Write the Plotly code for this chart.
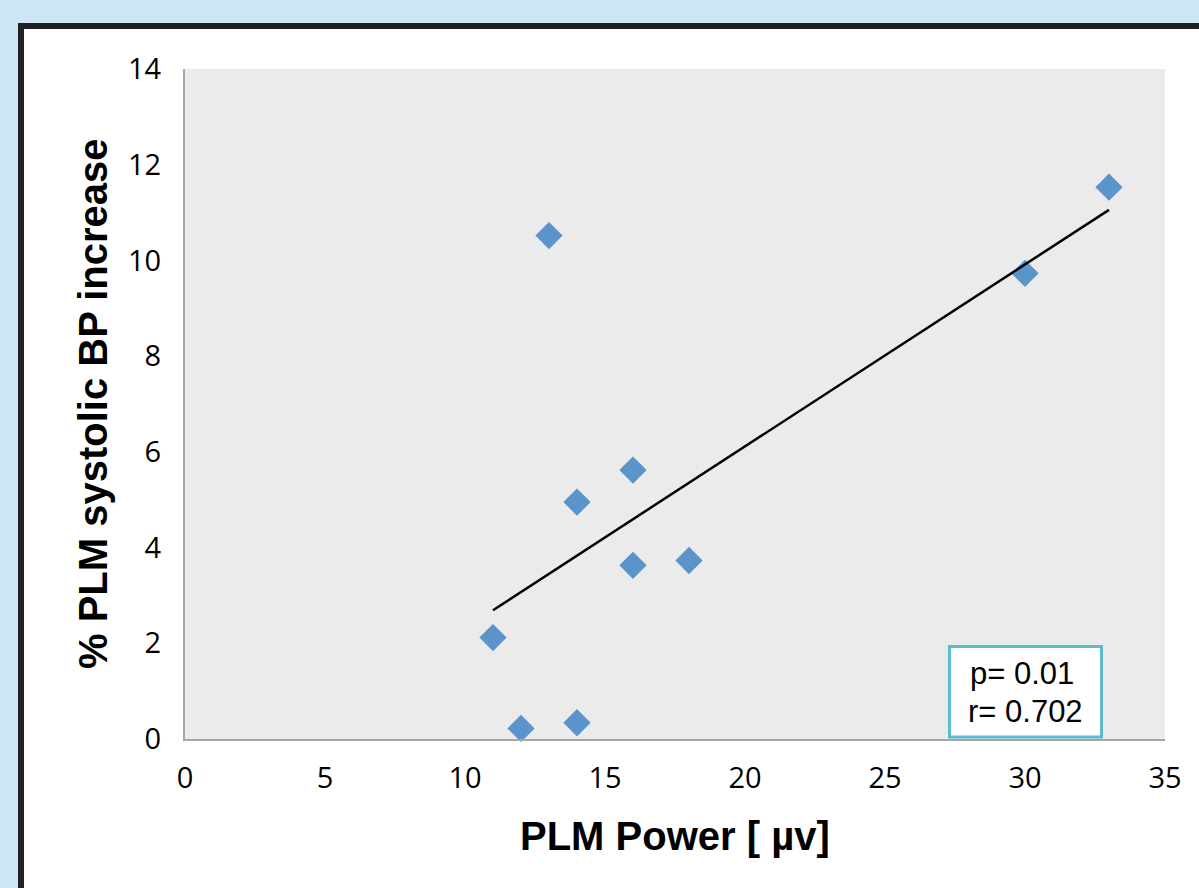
import numpy as np
import plotly.graph_objects as go

# Data
plm_power = [11, 12, 13, 14, 14, 16, 16, 18, 30, 33]
bp_increase = [2.12, 0.22, 10.52, 0.34, 4.95, 5.62, 3.63, 3.73, 9.73, 11.53]
x_ticks = [0, 5, 10, 15, 20, 25, 30, 35]
y_ticks = [0, 2, 4, 6, 8, 10, 12, 14]
stats_text = ["p= 0.01", "r= 0.702"]

# Linear trend line (least squares)
slope, intercept = np.polyfit(plm_power, bp_increase, 1)
trend_x = [min(plm_power), max(plm_power)]
trend_y = [slope * v + intercept for v in trend_x]

W, H = 1199, 888
L, R, T, B = 185, 1165, 69, 739  # plot area in pixels


def px_x(p):
    return (p - L) / (R - L)


def px_y(p):
    return (B - p) / (B - T)


fig = go.Figure()
fig.add_trace(go.Scatter(
    x=plm_power, y=bp_increase, mode="markers",
    marker=dict(symbol="diamond", size=21, color="#5b93cb",
                line=dict(width=0)),
    showlegend=False, cliponaxis=False,
))
fig.add_trace(go.Scatter(
    x=trend_x, y=trend_y, mode="lines",
    line=dict(color="black", width=2.5),
    showlegend=False,
))

shapes = [
    # white card with dark frame
    dict(type="rect", xref="paper", yref="paper", layer="below",
         x0=px_x(21), x1=px_x(1215), y0=px_y(905), y1=px_y(26),
         fillcolor="white", line=dict(color="#231f20", width=6)),
    # grey plot area
    dict(type="rect", xref="paper", yref="paper", layer="below",
         x0=0, x1=1, y0=0, y1=1, fillcolor="#ebebeb", line=dict(width=0)),
    # stats box
    dict(type="rect", xref="paper", yref="paper", layer="above",
         x0=px_x(949.5), x1=px_x(1101.5), y0=px_y(737), y1=px_y(646.5),
         fillcolor="white", line=dict(color="#5bbcd0", width=3)),
]

stat_font = dict(family="Liberation Sans, Arial", size=31, color="black")
annotations = [
    dict(text=stats_text[0], xref="paper", yref="paper",
         x=px_x(968), y=px_y(673), xanchor="left", yanchor="middle",
         align="left", showarrow=False, font=stat_font),
    dict(text=stats_text[1], xref="paper", yref="paper",
         x=px_x(966), y=px_y(711), xanchor="left", yanchor="middle",
         align="left", showarrow=False, font=stat_font),
    dict(text="<b>PLM Power [ µv]</b>", xref="paper", yref="paper",
         x=0.5, y=px_y(836), xanchor="center", yanchor="middle",
         showarrow=False,
         font=dict(family="Liberation Sans, Arial", size=40, color="black")),
    dict(text="<b>% PLM systolic BP increase</b>", xref="paper", yref="paper",
         x=px_x(93), y=px_y(404), xanchor="center", yanchor="middle",
         textangle=-90, showarrow=False,
         font=dict(family="Liberation Sans, Arial", size=40, color="black")),
]

fig.update_layout(
    width=W, height=H,
    margin=dict(l=L, r=W - R, t=T, b=H - B, pad=0),
    paper_bgcolor="#cce7f3",
    plot_bgcolor="rgba(0,0,0,0)",
    shapes=shapes,
    annotations=annotations,
    font=dict(family="Open Sans, Liberation Sans, sans-serif", size=29,
              color="black"),
)
fig.update_xaxes(
    range=[0, 35], tickvals=x_ticks, ticktext=[str(v) for v in x_ticks],
    showgrid=False, zeroline=False, showline=True, linecolor="#a6a6a6",
    linewidth=2, ticks="", ticklabelstandoff=12,
    tickfont=dict(family="Open Sans", size=29),
)
fig.update_yaxes(
    range=[0, 14], tickvals=y_ticks, ticktext=[str(v) for v in y_ticks],
    showgrid=False, zeroline=False, showline=True, linecolor="#a6a6a6",
    linewidth=2, ticks="", ticklabelstandoff=16,
    tickfont=dict(family="Open Sans", size=29),
)

fig.write_html(
    "out.html",
    config={"displayModeBar": False},
    post_script="document.body.style.margin='0';"
                "document.body.style.overflow='hidden';",
)
